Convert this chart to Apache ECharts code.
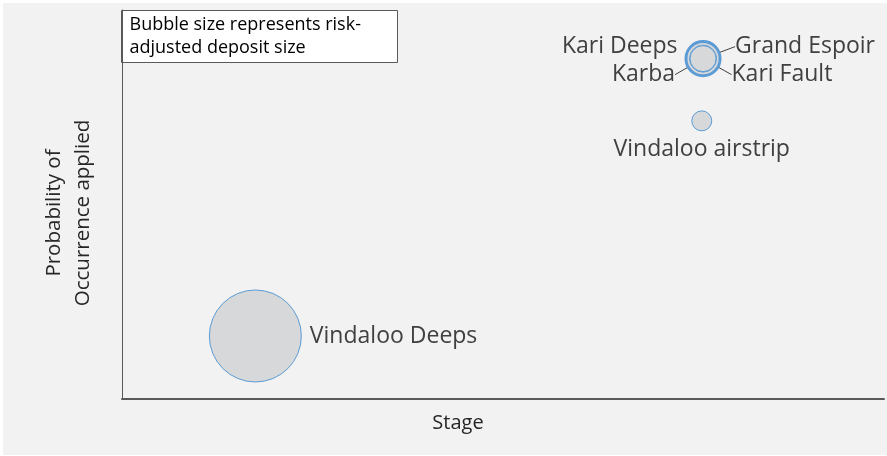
<!DOCTYPE html>
<html><head><meta charset="utf-8">
<script src="https://cdn.jsdelivr.net/npm/echarts@6/dist/echarts.min.js"></script>
<style>html,body{margin:0;background:#fff;} #c{position:absolute;left:3px;top:3px;width:884px;height:452px;}</style>
</head><body><div id="c"></div>
<script>
// Data
const names = ['Vindaloo Deeps', 'Kari Deeps', 'Grand Espoir', 'Karba', 'Kari Fault', 'Vindaloo airstrip'];
const stage = [1.05, 4.575, 4.575, 4.575, 4.575, 4.565];
const probability = [0.162, 0.875, 0.875, 0.875, 0.875, 0.715];
const depositSize = [100, 14.5, 12.6, 8.6, 8.0, 4.7];
const xAxisTitle = 'Stage';
const yAxisTitle = 'Probability of\nOccurrence applied';
const noteText = 'Bubble size represents risk-\nadjusted deposit size';

const FONT = 'Open Sans';
const labelCfg = {
  'Vindaloo Deeps': {position: 'right', distance: 8, border: 1},
  'Kari Deeps': {position: 'left', distance: 7, layout: {dx: 0, dy: -12}, border: 2},
  'Grand Espoir': {position: 'right', distance: 15, layout: {dx: 0, dy: -12}, line: true, border: 1.5},
  'Karba': {position: 'left', distance: 14, layout: {dx: 0, dy: 16}, line: true, border: 1},
  'Kari Fault': {position: 'right', distance: 15, layout: {dx: 0, dy: 16}, line: true, border: 1},
  'Vindaloo airstrip': {position: 'bottom', distance: 7, border: 1}
};

const data = names.map((n, i) => {
  const c = labelCfg[n];
  const item = {
    name: n,
    value: [stage[i], probability[i], depositSize[i]],
    itemStyle: {borderWidth: c.border},
    label: {show: true, position: c.position, distance: c.distance, formatter: '{b}'}
  };
  if (c.line) item.labelLine = {show: true, lineStyle: {color: '#404040', width: 1}};
  return item;
});

const chart = echarts.init(document.getElementById('c'));
chart.setOption({
  backgroundColor: '#f2f2f2',
  animation: false,
  grid: {left: 119, right: 3, top: 7, bottom: 56},
  xAxis: {
    type: 'value', min: 0, max: 6,
    name: xAxisTitle, nameLocation: 'middle', nameGap: 14,
    nameTextStyle: {fontFamily: FONT, fontSize: 20, color: '#262626', padding: [0, 90, 0, 0]},
    axisLine: {show: true, lineStyle: {color: '#595959', width: 2}},
    axisTick: {show: false}, axisLabel: {show: false}, splitLine: {show: false}
  },
  yAxis: {
    type: 'value', min: 0, max: 1,
    axisLine: {show: true, lineStyle: {color: '#595959', width: 1}},
    axisTick: {show: false}, axisLabel: {show: false}, splitLine: {show: false}
  },
  series: [{
    type: 'scatter',
    data: data,
    symbolSize: v => 9.2 * Math.sqrt(v[2]),
    itemStyle: {color: '#d7d8da', borderColor: '#5b9bd5', borderWidth: 1, opacity: 1},
    label: {fontFamily: FONT, fontSize: 23, color: '#404040'},
    labelLayout: function (p) {
      const c = labelCfg[names[p.dataIndex]];
      return c.layout ? {dx: c.layout.dx, dy: c.layout.dy} : {};
    },
    labelLine: {show: false, lineStyle: {color: '#404040'}},
    z: 2
  }],
  graphic: [{
    type: 'group', left: 118, top: 7,
    children: [
      {type: 'rect', shape: {x: 0, y: 0, width: 276, height: 52}, style: {fill: '#fff', stroke: '#595959', lineWidth: 1}},
      {type: 'text', x: 8, y: 3, style: {text: noteText, font: '18px "Open Sans"', fill: '#000', lineHeight: 23}}
    ]
  }, {
    type: 'text', x: 66, y: 210, rotation: Math.PI / 2,
    style: {text: yAxisTitle, font: '20.5px "Open Sans"', fill: '#262626', lineHeight: 29, align: 'center', verticalAlign: 'middle'}
  }]
});
</script></body></html>
